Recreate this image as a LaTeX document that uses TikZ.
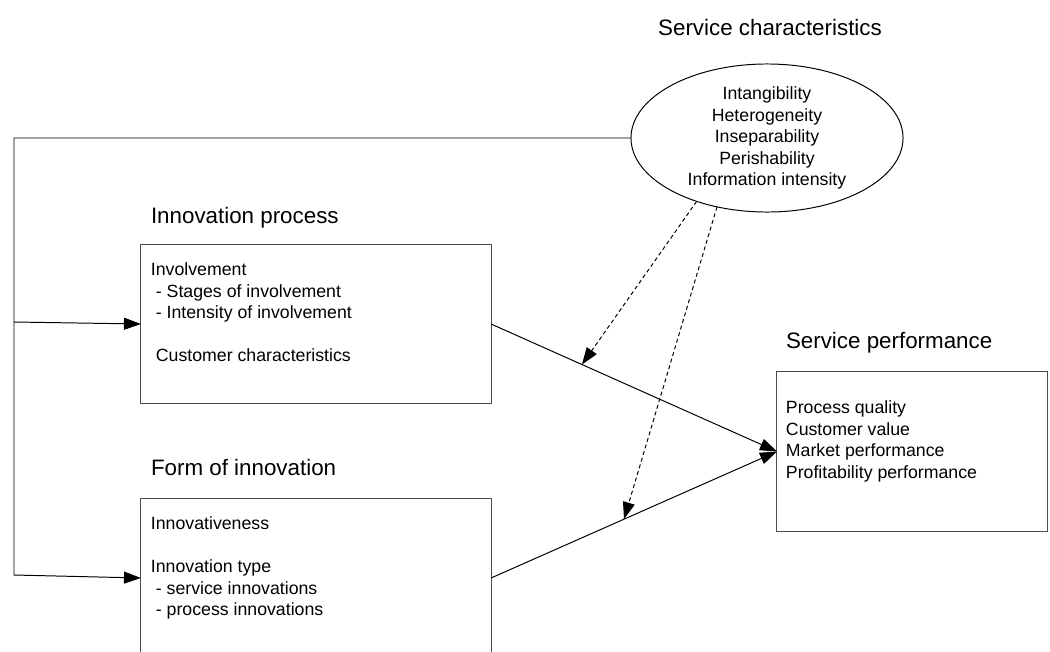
\documentclass[tikz,border=0pt]{standalone}
\usepackage{fontspec}
\setmainfont{Liberation Sans}
\usetikzlibrary{arrows.meta,shapes.geometric,positioning,calc}
\newcommand{\indsp}{\hspace*{3.5pt}}
\begin{document}
\begin{tikzpicture}[x=0.025cm,y=-0.025cm,
  every node/.style={inner sep=0pt,outer sep=0pt},
  txt/.style={font=\fontsize{12.6}{15.3}\selectfont,align=left},
  title/.style={font=\fontsize{15.9}{19}\selectfont},
  block/.style={draw=kGrey,line width=0.7pt,minimum width=8.75cm,minimum height=3.95cm},
  link/.style={line width=0.7pt,-{Triangle[length=4.25mm,width=3mm]}},
  modlink/.style={link,dash pattern=on 2.8pt off 2.1pt}]
  % colors
  \definecolor{kGrey}{rgb}{0.3,0.3,0.3}
  \useasboundingbox (0,0) rectangle (1050,651);
  % characteristics
  \node[title,anchor=base] (tsc) at (770,35) {Service characteristics};
  \node[draw,ellipse,line width=0.7pt,minimum width=6.8cm,minimum height=3.7cm,txt,align=center] (sc) at (767,138)
    {Intangibility\\Heterogeneity\\Inseparability\\Perishability\\Information intensity};
  % process
  \node[title,anchor=base west] (tip) at (151,223) {Innovation process};
  \node[block] (b1) at (316,324) {};
  \node[txt,anchor=north west] (xip) at ($(b1.north west)+(10,18)$)
    {Involvement\\\indsp- Stages of involvement\\\indsp- Intensity of involvement\\[15.3pt]\indsp Customer characteristics};
  % form
  \node[title,anchor=base west] (tfi) at (151,475) {Form of innovation};
  \node[block] (b2) at (316,578) {};
  \node[txt,anchor=north west] (xfi) at ($(b2.north west)+(10,18)$)
    {Innovativeness\\[15.3pt]Innovation type\\\indsp- service innovations\\\indsp- process innovations};
  % performance
  \node[title,anchor=base west] (tsp) at (786,348) {Service performance};
  \node[block,minimum width=6.75cm,minimum height=3.975cm] (b3) at (912,451.5) {};
  \node[txt,anchor=north west] (xsp) at ($(b3.north west)+(9,29)$)
    {Process quality\\Customer value\\Market performance\\Profitability performance};
  % links
  \coordinate (top) at (14,138);
  \coordinate (l1) at (14,322);
  \coordinate (l2) at (14,575);
  \draw[link] (sc.west) -- (top) -- (l2) -- (b2.west);
  \draw[link] (l1) -- (b1.west);
  \draw[link] (b1.east) -- (b3.west);
  \draw[link] (b2.east) -- (b3.west);
  % moderation
  \coordinate (m1) at ($(b1.east)!0.318!(b3.west)$);
  \coordinate (m2) at ($(b2.east)!0.465!(b3.west)$);
  \draw[modlink] (sc.222) -- (m1);
  \draw[modlink] (sc.234) -- (m2);
\end{tikzpicture}
\end{document}
